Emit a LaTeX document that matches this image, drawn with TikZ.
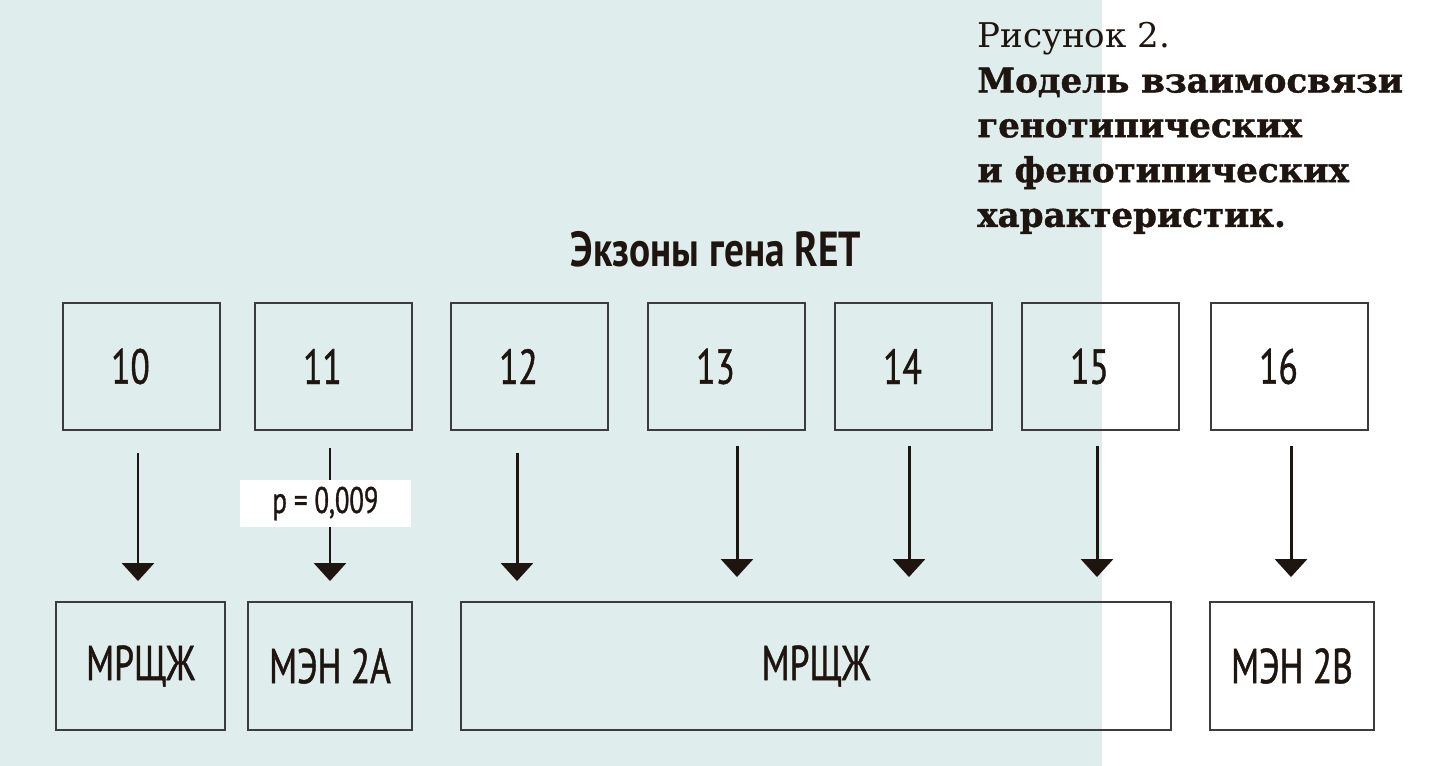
\documentclass[tikz,border=0pt]{standalone}
\usepackage{fontspec}
\usepackage{tikz}
\usepackage{xcolor}
\usetikzlibrary{arrows.meta,positioning}
\setmainfont{DejaVu Serif}[BoldFeatures={FakeBold=1.2}]
\newfontfamily\narrowsans[FakeStretch=0.72,FakeBold=0.9]{PT Sans}
\newfontfamily\titlesans[FakeStretch=0.8]{PT Sans}
\definecolor{mintbg}{HTML}{DFEEEC}
\definecolor{inkbrown}{HTML}{1E1511}
\definecolor{framegrey}{HTML}{3C3C3C}

\begin{document}
\begin{tikzpicture}[x=0.02cm,y=-0.02cm,
  >={Triangle[width=0.64cm,length=0.36cm]},
  exon/.style={draw=framegrey,line width=1.1pt,minimum width=3.14cm,minimum height=2.54cm,
    inner sep=0pt,text=inkbrown,font=\narrowsans\fontsize{28}{30}\selectfont,
    execute at end node={\hspace*{0.44cm}}},
  dis/.style={draw=framegrey,line width=1.1pt,minimum height=2.56cm,inner sep=0pt,
    text=inkbrown,font=\narrowsans\fontsize{28}{30}\selectfont},
  arr/.style={->,line width=1.7pt,draw=inkbrown,fill=inkbrown},
  pval/.style={fill=white,minimum width=3.42cm,minimum height=0.94cm,inner sep=0pt,
    text=inkbrown,font=\narrowsans\fontsize{21}{24}\selectfont}]
  \useasboundingbox (0,0) rectangle (1433,766);
  \fill[white] (0,0) rectangle (1433,766);
  \fill[mintbg] (0,0) rectangle (1102,766);

  % caption
  \node[anchor=north west,align=left,inner sep=0pt,text=inkbrown,
    font=\fontsize{19.4}{25.5}\selectfont] (cap) at (977,22)
    {Рисунок 2.\\\textbf{Модель взаимосвязи}\\\textbf{генотипических}\\
     \textbf{и фенотипических}\\\textbf{характеристик.}};
  \node[text=inkbrown,font=\titlesans\bfseries\fontsize{28}{30}\selectfont] (title)
    at (716,249) {Экзоны гена RET};

  % exons
  \foreach \n/\x in {10/141.5, 11/333.5, 12/529.5, 13/726.5, 14/913.5, 15/1100.5, 16/1289.5}
    \node[exon] (t\n) at (\x, 366.5) {\n};

  % phenotypes
  \node[dis,minimum width=3.38cm] (b1) at (140.5,666) {МРЩЖ};
  \node[dis,minimum width=3.28cm] (b2) at (330,666) {МЭН 2А};
  \node[dis,minimum width=14.2cm] (b3) at (816,666) {МРЩЖ};
  \node[dis,minimum width=3.28cm] (b4) at (1292,666) {МЭН 2В};

  \foreach \n/\dx/\t/\s/\e in {10/-3.5/b1/0.44/0.40, 11/-3.5/b2/0.34/0.40,
      12/-12.5/b3/0.44/0.40, 13/10.5/b3/0.30/0.48, 14/-4.5/b3/0.30/0.48,
      15/-3.5/b3/0.30/0.48, 16/1.5/b4/0.30/0.48}
    \draw[arr,shorten <=\s cm,shorten >=\e cm]
      ([xshift=\dx*0.02cm]t\n.south) -- ([xshift=\dx*0.02cm]t\n.south |- \t.north);

  \node[pval] (p11) at (325.5,503.5) {p = 0,009};
\end{tikzpicture}
\end{document}
